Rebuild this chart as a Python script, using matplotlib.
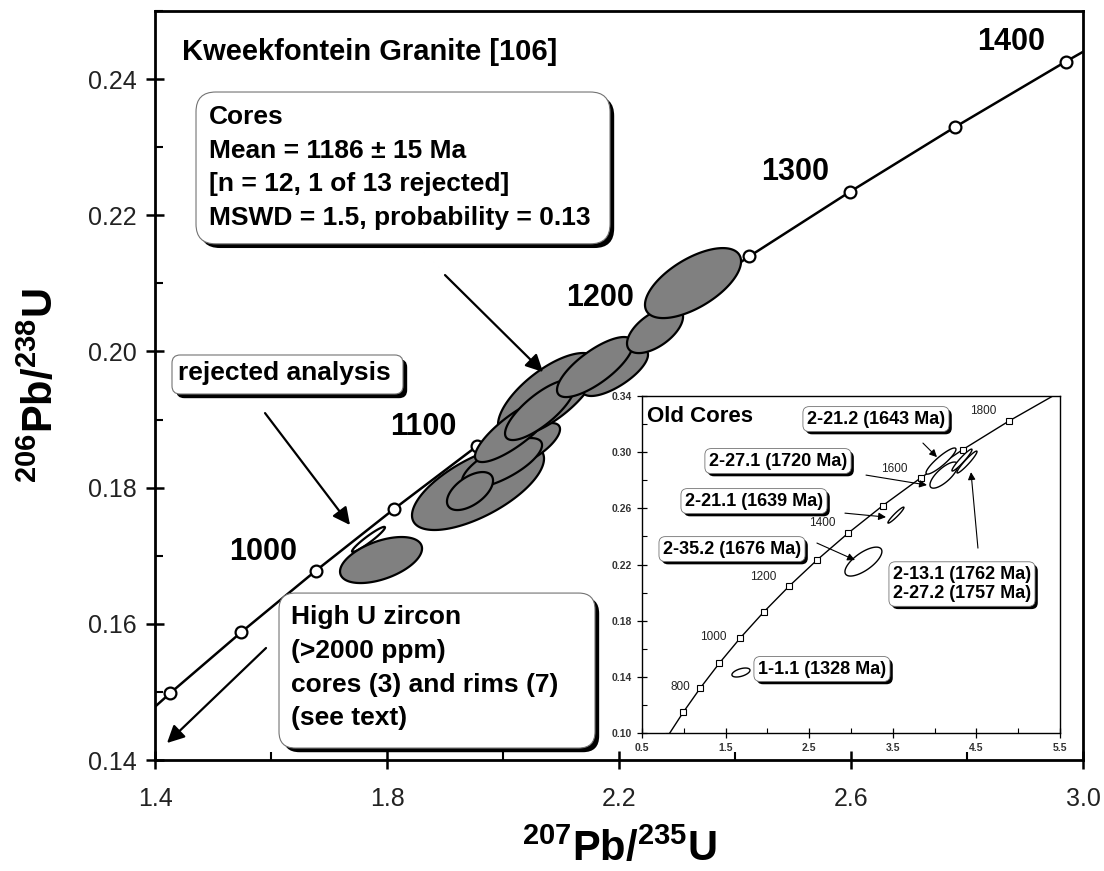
import numpy as np
import matplotlib.pyplot as plt
import matplotlib.patheffects as pe
from matplotlib.patches import Polygon, FancyBboxPatch
from matplotlib.ticker import FormatStrFormatter, MultipleLocator

plt.rcParams['font.family'] = ['Liberation Sans', 'DejaVu Sans']
plt.rcParams['mathtext.fontset'] = 'custom'
plt.rcParams['mathtext.rm'] = 'Liberation Sans'
plt.rcParams['mathtext.bf'] = 'Liberation Sans:bold'

# concordia, main panel (ages in Ma, every 50 Ma)
main_age = [850, 900, 950, 1000, 1050, 1100, 1150, 1200, 1250, 1300, 1350, 1400, 1450]
main_r207 = [1.3097, 1.4263, 1.5488, 1.6774, 1.8126, 1.9545, 2.1037, 2.2603,
             2.4249, 2.5978, 2.7794, 2.9701, 3.1705]
main_r206 = [0.14094, 0.14983, 0.15878, 0.16781, 0.17690, 0.18606, 0.19530, 0.20460,
             0.21398, 0.22343, 0.23296, 0.24256, 0.25224]

# age labels along the curve
tag_age = ['1000', '1100', '1200', '1300', '1400']
tag_x = [1.5862, 1.8621, 2.1672, 2.5034, 2.8759]
tag_y = [0.17054, 0.18890, 0.20784, 0.22634, 0.24543]

# zircon cores: 207Pb/235U, 206Pb/238U, 2s errors, error correlation
core_x = [1.7897, 1.9569, 2.0466, 1.9983, 1.9431, 2.0776, 2.0207, 2.0638,
          2.1931, 2.1586, 2.2621, 2.3276]
core_y = [0.16937, 0.18009, 0.18626, 0.18361, 0.17950, 0.19360, 0.18846, 0.19140,
          0.19698, 0.19771, 0.20314, 0.21004]
core_sx = [0.0707, 0.1138, 0.0517, 0.0690, 0.0397, 0.0862, 0.0690, 0.0603,
           0.0569, 0.0655, 0.0483, 0.0828]
core_sy = [0.00338, 0.00631, 0.00323, 0.00367, 0.00279, 0.00617, 0.00470, 0.00441,
           0.00352, 0.00441, 0.00338, 0.00514]
core_rho = [0.50, 0.66, 0.72, 0.72, 0.55, 0.70, 0.82, 0.78, 0.72, 0.76, 0.58, 0.62]

# rejected analysis
rej_x, rej_y, rej_sx, rej_sy, rej_rho = 1.7681, 0.1724, 0.0284, 0.00184, 0.95

# concordia, inset (every 100 Ma)
old_age = [600, 700, 800, 900, 1000, 1100, 1200, 1300, 1400, 1500, 1600, 1700, 1800, 1900]
old_r207 = [0.8056, 0.9925, 1.1987, 1.4263, 1.6774, 1.9545, 2.2603, 2.5978, 2.9701,
            3.3810, 3.8344, 4.3348, 4.8869, 5.4962]
old_r206 = [0.09754, 0.11470, 0.13213, 0.14983, 0.16781, 0.18606, 0.20460, 0.22343,
            0.24256, 0.26199, 0.28171, 0.30176, 0.32210, 0.34277]
old_tag = ['800', '1000', '1200', '1400', '1600', '1800']
old_tag_x = [0.955, 1.349, 1.947, 2.653, 3.514, 4.579]
old_tag_y = [0.1328, 0.1684, 0.2111, 0.2495, 0.2880, 0.3293]

# old cores
old_x = [1.684, 3.149, 3.538, 4.077, 4.112, 4.328, 4.388]
old_y = [0.1431, 0.2221, 0.2552, 0.2937, 0.2837, 0.2944, 0.2930]
old_sx = [0.108, 0.221, 0.096, 0.179, 0.167, 0.120, 0.120]
old_sy = [0.0032, 0.0103, 0.0057, 0.0093, 0.0093, 0.0078, 0.0078]
old_rho = [0.50, 0.70, 0.95, 0.90, 0.75, 0.95, 0.95]

spot_names = ['2-21.2 (1643 Ma)', '2-27.1 (1720 Ma)', '2-21.1 (1639 Ma)',
              '2-35.2 (1676 Ma)', '2-13.1 (1762 Ma)\n2-27.2 (1757 Ma)', '1-1.1 (1328 Ma)']
spot_x = [3.299, 2.127, 1.840, 1.577, 4.328, 2.653]
spot_y = [0.3236, 0.2937, 0.2652, 0.2310, 0.2061, 0.1456]
spot_arrow = [((3.861, 0.3065), (4.029, 0.2965)),
              ((3.180, 0.2837), (3.909, 0.2766)),
              ((2.928, 0.2566), (3.419, 0.2538)),
              ((2.593, 0.2353), (3.048, 0.2232)),
              ((4.519, 0.2317), (4.436, 0.2858)),
              None]


def ellipse_xy(cx, cy, sx, sy, rho, n=160):
    t = np.linspace(0, 2 * np.pi, n)
    x = cx + sx * np.cos(t)
    y = cy + sy * (rho * np.cos(t) + np.sqrt(1 - rho ** 2) * np.sin(t))
    return np.column_stack([x, y])


def shadow_box(ax, x0, y0, x1, y1, rad, aspect, off=3):
    box = FancyBboxPatch((x0, y0), x1 - x0, y1 - y0,
                         boxstyle=f'round,pad=0,rounding_size={rad}',
                         mutation_aspect=aspect, fc='white', ec='0.45', lw=0.8, zorder=6)
    box.set_path_effects([pe.SimplePatchShadow(offset=(off, -off), shadow_rgbFace='k', alpha=1),
                          pe.Normal()])
    ax.add_patch(box)


fig = plt.figure(figsize=(11.04, 8.71), dpi=100)
ax = fig.add_axes([0.1404, 0.1274, 0.8406, 0.8600])
ax.set_xlim(1.4, 3.0)
ax.set_ylim(0.14, 0.25)
asp = (0.11 / 749) / (1.6 / 928)

# concordia
ax.plot(main_r207, main_r206, color='k', lw=1.8, zorder=2)
ax.plot(main_r207, main_r206, 'o', ms=8.5, mfc='white', mec='k', mew=1.6, zorder=2.5)
for s, x, y in zip(tag_age, tag_x, tag_y):
    ax.text(x, y, s, fontsize=22, fontweight='bold', ha='center', va='center')

# rejected spot, then accepted cores on top
ax.add_patch(Polygon(ellipse_xy(rej_x, rej_y, rej_sx, rej_sy, rej_rho),
                     closed=True, fc='white', ec='k', lw=1.6, zorder=3))
for i in range(len(core_x)):
    ax.add_patch(Polygon(ellipse_xy(core_x[i], core_y[i], core_sx[i], core_sy[i], core_rho[i]),
                         closed=True, fc='#808080', ec='k', lw=1.6, zorder=4))

ax.text(1.4466, 0.2440, 'Kweekfontein Granite [106]', fontsize=21, fontweight='bold',
        ha='left', va='center')

# text boxes
box_fs = 19
dy = 0.00495
shadow_box(ax, 1.4707, 0.2158, 2.1845, 0.2381, 0.034, asp, off=3)
cores_lines = ['Cores', 'Mean = 1186 \u00b1 15 Ma', '[n = 12, 1 of 13 rejected]',
               'MSWD = 1.5, probability = 0.13']
for i, line in enumerate(cores_lines):
    ax.text(1.4931, 0.23442 - i * dy, line, fontsize=box_fs, fontweight='bold',
            ha='left', va='center', zorder=7)

shadow_box(ax, 1.4293, 0.19375, 1.8276, 0.19948, 0.014, asp, off=3)
ax.text(1.4397, 0.19683, 'rejected analysis', fontsize=box_fs, fontweight='bold',
        ha='left', va='center', zorder=7)

shadow_box(ax, 1.6138, 0.14176, 2.1586, 0.16452, 0.028, asp, off=3)
high_u = ['High U zircon', '(>2000 ppm)', 'cores (3) and rims (7)', '(see text)']
for i, line in enumerate(high_u):
    ax.text(1.6345, 0.16100 - i * 0.00496, line, fontsize=box_fs, fontweight='bold',
            ha='left', va='center', zorder=7)

arrow_kw = dict(arrowstyle='-|>', color='k', lw=1.6, mutation_scale=26,
                shrinkA=0, shrinkB=0)
ax.annotate('', xy=(2.0690, 0.19698), xytext=(1.9000, 0.21122), arrowprops=arrow_kw, zorder=5)
ax.annotate('', xy=(1.7362, 0.17451), xytext=(1.5897, 0.19095), arrowprops=arrow_kw, zorder=5)
ax.annotate('', xy=(1.4207, 0.14250), xytext=(1.5914, 0.15645), arrowprops=arrow_kw, zorder=5)

# axes styling
ax.set_xticks([1.4, 1.8, 2.2, 2.6, 3.0])
ax.set_yticks([0.14, 0.16, 0.18, 0.20, 0.22, 0.24])
ax.xaxis.set_minor_locator(MultipleLocator(0.2))
ax.yaxis.set_minor_locator(MultipleLocator(0.01))
ax.xaxis.set_major_formatter(FormatStrFormatter('%.1f'))
ax.yaxis.set_major_formatter(FormatStrFormatter('%.2f'))
ax.tick_params(which='major', direction='inout', length=13, width=1.8, labelsize=18,
               labelcolor='#222222')
ax.tick_params(axis='x', which='major', pad=13)
ax.tick_params(axis='y', which='major', pad=7)
ax.tick_params(which='minor', direction='in', length=6, width=1.5)
for sp in ax.spines.values():
    sp.set_linewidth(2)

fig.text(0.561, 0.012, r'$\mathbf{^{207}Pb/^{235}U}$', fontsize=30, ha='center', va='baseline')
fig.text(0.037, 0.557, r'$\mathbf{^{206}Pb/^{238}U}$', fontsize=30, ha='center', va='center',
         rotation=90)

# inset: old cores
ins = fig.add_axes([0.5815, 0.1584, 0.3786, 0.3869])
ins.set_xlim(0.5, 5.5)
ins.set_ylim(0.10, 0.34)
ins.plot(old_r207, old_r206, color='k', lw=1.0, zorder=2)
ins.plot(old_r207, old_r206, 's', ms=4, mfc='white', mec='k', mew=0.8, zorder=3)
for s, x, y in zip(old_tag, old_tag_x, old_tag_y):
    ins.text(x, y, s, fontsize=8.5, ha='center', va='center', color='#222222')

for i in range(len(old_x)):
    ins.add_patch(Polygon(ellipse_xy(old_x[i], old_y[i], old_sx[i], old_sy[i], old_rho[i]),
                          closed=True, fc='white', ec='k', lw=1.0, zorder=4))

ins.text(0.56, 0.3257, 'Old Cores', fontsize=16, fontweight='bold', ha='left', va='center')

small_arrow = dict(arrowstyle='-|>', color='k', lw=0.8, mutation_scale=11,
                   shrinkA=0, shrinkB=0)
for name, x, y, arr in zip(spot_names, spot_x, spot_y, spot_arrow):
    t = ins.text(x, y, name, fontsize=13, fontweight='bold', ha='center', va='center',
                 multialignment='left', zorder=7,
                 bbox=dict(boxstyle='round,pad=0.22,rounding_size=0.35', fc='white',
                           ec='0.45', lw=0.6))
    t.get_bbox_patch().set_path_effects([
        pe.SimplePatchShadow(offset=(2, -2), shadow_rgbFace='k', alpha=1), pe.Normal()])
    if arr is not None:
        ins.annotate('', xy=arr[1], xytext=arr[0], arrowprops=small_arrow, zorder=5)

ins.set_xticks([0.5, 1.5, 2.5, 3.5, 4.5, 5.5])
ins.set_xticks([1, 2, 3, 4, 5], minor=True)
ins.set_yticks([0.10, 0.14, 0.18, 0.22, 0.26, 0.30, 0.34])
ins.set_yticks([0.12, 0.16, 0.20, 0.24, 0.28, 0.32], minor=True)
ins.xaxis.set_major_formatter(FormatStrFormatter('%.1f'))
ins.yaxis.set_major_formatter(FormatStrFormatter('%.2f'))
for lab in ins.get_xticklabels() + ins.get_yticklabels():
    lab.set_fontweight('bold')
ins.tick_params(which='major', direction='inout', length=7, width=0.9, labelsize=7.5,
                labelcolor='#333333', pad=4)
ins.tick_params(which='minor', direction='in', length=3.5, width=0.8)
for sp in ins.spines.values():
    sp.set_linewidth(1.0)

fig.savefig('out.png', dpi=100)
